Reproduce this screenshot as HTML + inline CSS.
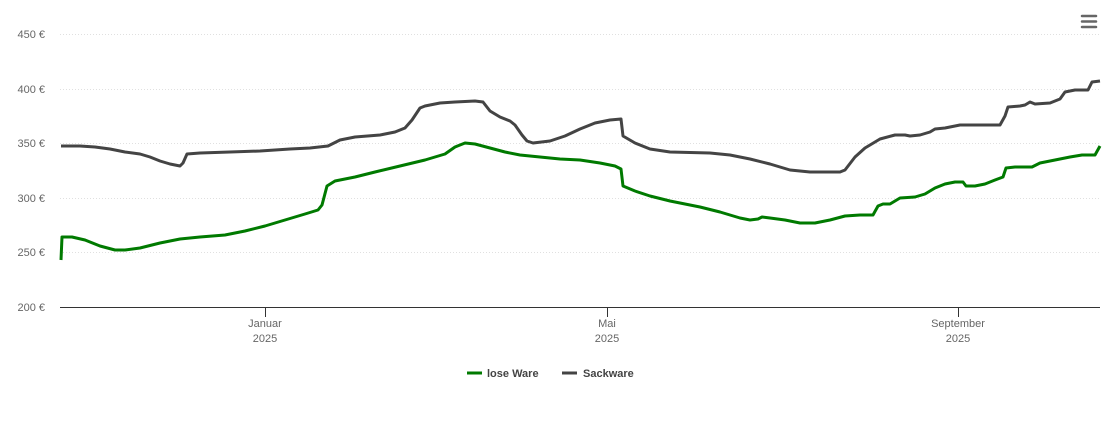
<!DOCTYPE html>
<html><head><meta charset="utf-8"><style>
body{margin:0;background:#fff;}
svg{display:block;font-family:"Liberation Sans",sans-serif;}
</style></head><body>
<svg width="1110" height="423" viewBox="0 0 1110 423">
<g stroke="#e0e0e0" stroke-dasharray="1,2" stroke-width="1">
<line x1="60" x2="1100" y1="34.5" y2="34.5"/><line x1="60" x2="1100" y1="89.5" y2="89.5"/>
<line x1="60" x2="1100" y1="143.5" y2="143.5"/><line x1="60" x2="1100" y1="198.5" y2="198.5"/>
<line x1="60" x2="1100" y1="252.5" y2="252.5"/>
</g>
<line x1="60" x2="1100" y1="307.5" y2="307.5" stroke="#333" stroke-width="1"/>
<g stroke="#333"><line x1="265.5" x2="265.5" y1="307" y2="317"/><line x1="607.5" x2="607.5" y1="307" y2="317"/><line x1="958.5" x2="958.5" y1="307" y2="317"/></g>
<g fill="#666" font-size="11" text-anchor="end">
<text x="45" y="38">450 €</text><text x="45" y="93">400 €</text><text x="45" y="147">350 €</text>
<text x="45" y="202">300 €</text><text x="45" y="256">250 €</text><text x="45" y="311">200 €</text>
</g>
<g fill="#666" font-size="11" text-anchor="middle">
<text x="265" y="327">Januar</text><text x="265" y="342">2025</text>
<text x="607" y="327">Mai</text><text x="607" y="342">2025</text>
<text x="958" y="327">September</text><text x="958" y="342">2025</text>
</g>
<polyline fill="none" stroke="#444" stroke-width="3" stroke-linejoin="round" points="61,146 80,146 95,147 110,149 125,152 140,154 150,157 160,161 170,164 180,166 183,163 187,154 200,153 230,152 260,151 290,149 310,148 328,146 340,140 355,137 380,135 395,132 405,128 412,120 420,108 425,106 440,103 455,102 475,101 483,102 490,111 500,117 510,121 515,125 522,135 527,141 533,143 550,141 565,136 580,129 595,123 610,120 621,119 623,136 635,143 650,149 670,152 710,153 730,155 750,159 770,164 790,170 810,172 840,172 845,170 855,157 865,148 880,139 895,135 905,135 910,136 920,135 930,132 935,129 945,128 955,126 960,125 1000,125 1005,116 1008,107 1020,106 1025,105 1030,102 1035,104 1050,103 1060,99 1065,92 1075,90 1088,90 1092,82 1100,81"/>
<polyline fill="none" stroke="#007a00" stroke-width="3" stroke-linejoin="round" points="61,260 62,237 72,237 85,240 100,246 115,250 125,250 140,248 160,243 180,239 200,237 225,235 245,231 265,226 285,220 305,214 318,210 322,205 327,186 335,181 345,179 355,177 375,172 400,166 425,160 445,154 455,147 465,143 475,144 490,148 505,152 520,155 540,157 560,159 580,160 600,163 615,166 621,169 623,186 635,191 650,196 670,201 700,207 720,212 740,218 750,220 758,219 762,217 770,218 785,220 800,223 815,223 830,220 845,216 860,215 873,215 878,206 883,204 890,204 900,198 915,197 925,194 935,188 945,184 955,182 963,182 966,186 975,186 985,184 995,180 1003,177 1006,168 1015,167 1032,167 1040,163 1055,160 1070,157 1082,155 1095,155 1100,146"/>
<line x1="467" x2="482" y1="373" y2="373" stroke="#007a00" stroke-width="3"/>
<text x="487" y="377" font-size="11" font-weight="bold" fill="#444">lose Ware</text>
<line x1="562" x2="577" y1="373" y2="373" stroke="#444" stroke-width="3"/>
<text x="583" y="377" font-size="11" font-weight="bold" fill="#444">Sackware</text>
<g stroke="#666" stroke-width="2.5" stroke-linecap="round">
<line x1="1082" x2="1096" y1="16" y2="16"/><line x1="1082" x2="1096" y1="21.5" y2="21.5"/><line x1="1082" x2="1096" y1="27" y2="27"/>
</g>
</svg>
</body></html>
